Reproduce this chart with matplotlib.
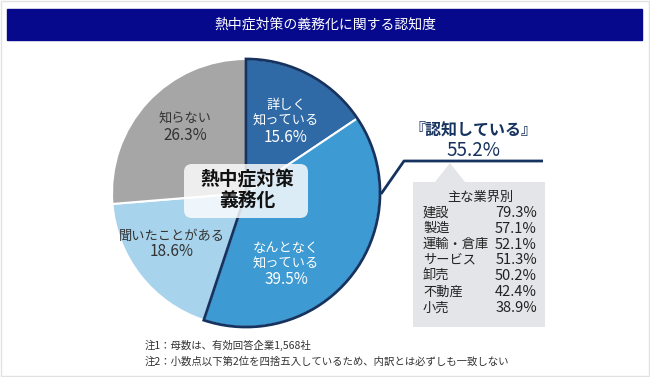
import matplotlib
matplotlib.use("Agg")
import matplotlib.pyplot as plt
from matplotlib.patches import Rectangle, FancyBboxPatch, Polygon, Wedge

plt.rcParams['font.family'] = ['Noto Sans CJK JP', 'DejaVu Sans']

# data
title = "熱中症対策の義務化に関する認知度"
slice_labels = ["詳しく\n知っている", "なんとなく\n知っている", "聞いたことがある", "知らない"]
slice_values = [15.6, 39.5, 18.6, 26.3]
recognized_pct = 55.2
industries = ["建設", "製造", "運輸・倉庫", "サービス", "卸売", "不動産", "小売"]
industry_pct = [79.3, 57.1, 52.1, 51.3, 50.2, 42.4, 38.9]
notes = ["注1：母数は、有効回答企業1,568社",
         "注2：小数点以下第2位を四捨五入しているため、内訳とは必ずしも一致しない"]

W, H = 650, 377
navy = "#16325F"
slice_colors = ["#2F6AA6", "#3D9AD2", "#A8D3EC", "#A6A6A6"]
label_colors = ["white", "white", "#333333", "#333333"]


def Y(y):
    # pixel row (from top) -> data y
    return H - y


fig = plt.figure(figsize=(6.5, 3.77), dpi=100)
ax = fig.add_axes([0, 0, 1, 1])

# outer frame + title bar
ax.add_patch(Rectangle((1, 1), W - 2, H - 2, fill=False, edgecolor="#E2E2E2", lw=1))
ax.add_patch(Rectangle((7, Y(40)), 635, 31, color="#07098C"))
ax.text(325, Y(24.5), title, color="white", fontsize=10, ha="center", va="center")

# pie
cx, cy, r = 246, Y(193), 134
wedges, _ = ax.pie(slice_values, colors=slice_colors, startangle=90, counterclock=False,
                   center=(cx, cy), radius=r,
                   wedgeprops=dict(edgecolor="white", linewidth=1.5))
share = (slice_values[0] + slice_values[1]) / sum(slice_values)
ax.add_patch(Wedge((cx, cy), r, 90 - 360 * share, 90, fill=False,
                   edgecolor=navy, lw=2, zorder=5))

# slice labels: name block above, percentage below
label_pos = [(286, 137), (286, 280), (172, 252), (185, 135)]
for lab, val, (x, y), c in zip(slice_labels, slice_values, label_pos, label_colors):
    ax.text(x, Y(y - 9), lab, color=c, fontsize=9.5, ha="center", va="bottom",
            linespacing=1.3, zorder=6)
    ax.text(x, Y(y), f"{val}%", color=c, fontsize=11, ha="center", va="center", zorder=6)

# centre box
ax.add_patch(FancyBboxPatch((188, Y(214)), 116, 46, boxstyle="round,pad=4,rounding_size=8",
                            facecolor="white", edgecolor="none", alpha=0.82, zorder=6))
ax.text(247, Y(190), "熱中症対策\n義務化", fontsize=13.5, fontweight="bold", color="#111111",
        ha="center", va="center", linespacing=1.25, zorder=7)

# leader line + recognized total
ax.plot([381, 404, 543], [Y(194), Y(161), Y(161)], color=navy, lw=2, zorder=5,
        solid_capstyle="butt")
ax.text(473, Y(130), "『認知している』", color=navy, fontsize=11.5, fontweight="bold",
        ha="center", va="center")
ax.text(473, Y(150), f"{recognized_pct}%", color=navy, fontsize=13.5,
        ha="center", va="center")

# industry box with pointer
box = [(413, 182), (435, 182), (450, 163), (465, 182), (545, 182), (545, 327), (413, 327)]
ax.add_patch(Polygon([(x, Y(y)) for x, y in box], closed=True, facecolor="#E3E5E8",
                     edgecolor="none"))
ax.text(480, Y(197), "主な業界別", fontsize=9.5, color="#222222", ha="center", va="center")
for i, (name, pct) in enumerate(zip(industries, industry_pct)):
    yy = Y(213 + i * 15.8)
    ax.text(423, yy, name, fontsize=9.5, color="#222222", ha="left", va="center")
    ax.text(537, yy, f"{pct}%", fontsize=10.5, color="#222222", ha="right", va="center")

# notes
for i, n in enumerate(notes):
    ax.text(145, Y(345 + i * 17), n, fontsize=7.5, color="#333333", ha="left", va="center")

ax.set_xlim(0, W)
ax.set_ylim(0, H)
ax.set_aspect("auto")
ax.axis("off")

fig.savefig("out.png", dpi=100)
